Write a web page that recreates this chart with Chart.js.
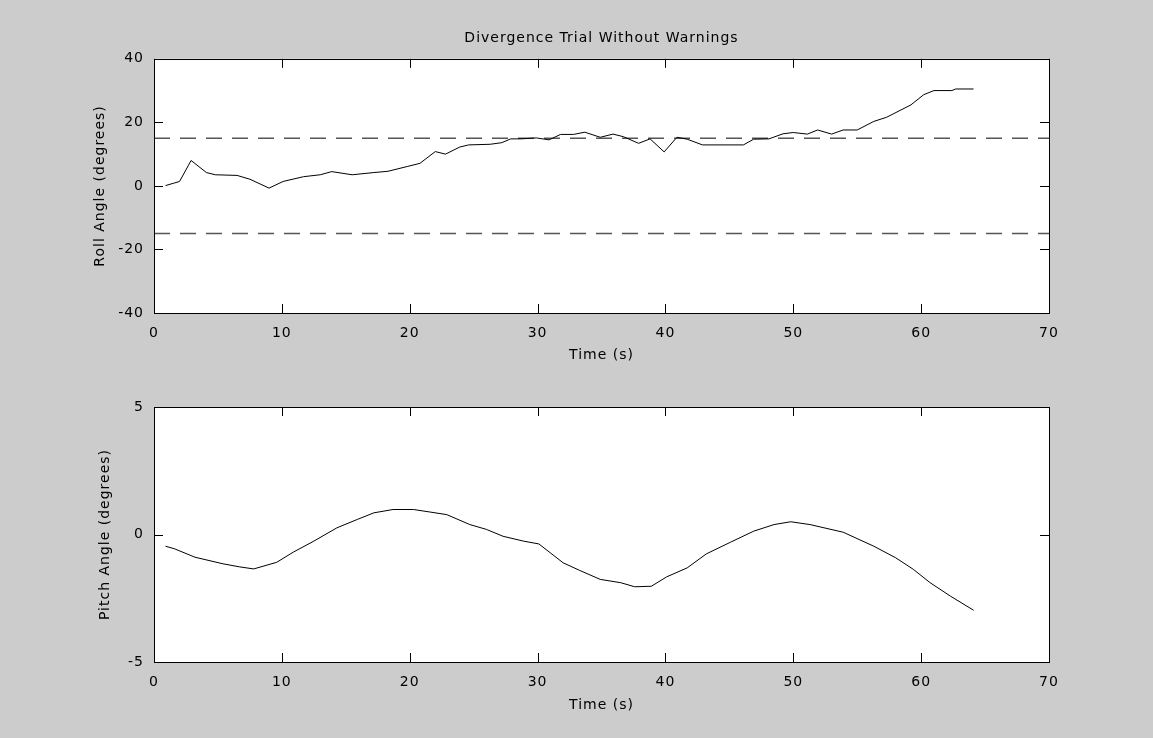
<!DOCTYPE html>
<html>
<head>
<meta charset="utf-8">
<script src="https://cdn.jsdelivr.net/npm/chart.js@4.4.1/dist/chart.umd.min.js"></script>
<style>
  body { margin: 0; background: #cccccc; }
  .box { position: absolute; left: 0; width: 1153px; height: 369px; }
</style>
</head>
<body>
<div class="box" style="top:0"><canvas id="rollChart"></canvas></div>
<div class="box" style="top:369px"><canvas id="pitchChart"></canvas></div>
<script>
// roll angle (top plot)
const rollTime = [0.9, 1.5, 2.0, 2.9, 4.1, 4.8, 6.5, 7.5, 9.0, 10.1, 11.7, 13.0, 13.9, 15.5, 17.2, 18.3, 19.8, 20.8,
  22.0, 22.8, 23.9, 24.6, 26.3, 27.2, 27.9, 28.7, 29.9, 30.9, 31.8, 32.8, 33.7, 34.9, 35.9, 36.7, 37.9, 38.8,
  39.9, 40.9, 41.7, 42.9, 46.1, 46.9, 48.1, 49.2, 50.0, 51.1, 51.9, 53.0, 53.9, 55.0, 56.3, 57.3, 59.2, 60.2,
  61.0, 62.4, 62.7, 64.1];
const rollAngle = [0.1, 0.8, 1.4, 8.0, 4.2, 3.5, 3.3, 2.1, -0.7, 1.4, 2.9, 3.5, 4.5, 3.5, 4.2, 4.6, 6.1, 7.1,
  10.8, 10.0, 12.2, 12.9, 13.1, 13.6, 14.8, 14.8, 15.1, 14.5, 16.2, 16.2, 16.9, 15.3, 16.3, 15.5, 13.4, 14.8,
  10.7, 15.3, 14.7, 12.9, 12.9, 14.7, 14.8, 16.4, 16.8, 16.3, 17.6, 16.3, 17.6, 17.6, 20.3, 21.6, 25.5, 28.7,
  30.0, 30.0, 30.5, 30.5];
const rollLimits = [15, -15];

// pitch angle (bottom plot)
const pitchTime = [0.9, 1.6, 3.2, 5.4, 6.7, 7.8, 9.6, 10.9, 12.5, 14.3, 15.9, 17.2, 18.7, 20.3, 21.6, 22.9,
  24.7, 26.0, 27.3, 28.9, 30.1, 31.0, 32.0, 33.3, 34.9, 36.5, 37.6, 38.9, 40.1, 41.7, 43.2, 45.1, 46.9, 48.5,
  49.8, 51.3, 53.9, 56.3, 58.0, 59.4, 60.7, 62.3, 64.1];
const pitchAngle = [-0.46, -0.56, -0.89, -1.15, -1.27, -1.35, -1.09, -0.69, -0.26, 0.26, 0.59, 0.85, 0.98, 0.98,
  0.88, 0.78, 0.39, 0.2, -0.07, -0.26, -0.37, -0.72, -1.11, -1.41, -1.76, -1.89, -2.05, -2.03, -1.66, -1.31,
  -0.76, -0.3, 0.13, 0.39, 0.5, 0.39, 0.09, -0.46, -0.91, -1.37, -1.89, -2.42, -2.97];

const xRange = [0, 70];
const rollRange = [-40, 40];
const pitchRange = [-5, 5];

const font = { family: 'DejaVu Sans', size: 14 };

// white axes box with inward ticks on all four sides, like the original figure
const matlabBox = {
  id: 'matlabBox',
  beforeUpdate(chart) { chart.ctx.letterSpacing = '1px'; },
  beforeDraw(chart) {
    const { ctx, chartArea: a } = chart;
    ctx.save();
    ctx.fillStyle = '#ffffff';
    ctx.fillRect(a.left, a.top, a.right - a.left, a.bottom - a.top);
    ctx.restore();
  },
  afterDraw(chart) {
    const { ctx, chartArea: a, scales } = chart;
    const len = 9;
    ctx.save();
    ctx.strokeStyle = '#000';
    ctx.lineWidth = 1;
    ctx.beginPath();
    scales.x.ticks.forEach(t => {
      const px = Math.round(scales.x.getPixelForValue(t.value)) + 0.5;
      ctx.moveTo(px, a.top); ctx.lineTo(px, a.top + len);
      ctx.moveTo(px, a.bottom); ctx.lineTo(px, a.bottom - len);
    });
    scales.y.ticks.forEach(t => {
      const py = Math.round(scales.y.getPixelForValue(t.value)) + 0.5;
      ctx.moveTo(a.left, py); ctx.lineTo(a.left + len, py);
      ctx.moveTo(a.right, py); ctx.lineTo(a.right - len, py);
    });
    ctx.stroke();
    ctx.strokeRect(Math.round(a.left) + 0.5, Math.round(a.top) + 0.5,
      Math.round(a.right - a.left), Math.round(a.bottom - a.top));
    ctx.restore();
  }
};

function makeScales(yRange, yStep, yTitle, yTitlePad, xTitlePad) {
  return {
    x: {
      type: 'linear', min: xRange[0], max: xRange[1],
      afterFit(s) { s.height = xTitlePad.h; },
      grid: { display: false, drawTicks: false }, border: { display: false },
      ticks: { stepSize: 10, color: '#000', font, padding: 12 },
      title: { display: true, text: 'Time (s)', color: '#000', font, padding: { top: 0, bottom: xTitlePad.b } }
    },
    y: {
      min: yRange[0], max: yRange[1],
      afterFit(s) { s.width = 154; },
      grid: { display: false, drawTicks: false }, border: { display: false },
      ticks: { stepSize: yStep, color: '#000', font, padding: 10 },
      title: { display: true, text: yTitle, color: '#000', font, padding: { top: yTitlePad, bottom: 0 } }
    }
  };
}

const pts = (xs, ys) => xs.map((x, i) => ({ x: x, y: ys[i] }));

new Chart(document.getElementById('rollChart'), {
  type: 'line',
  data: {
    datasets: [
      { data: pts(rollTime, rollAngle), borderColor: '#000', borderWidth: 1, pointRadius: 0, tension: 0 },
      ...rollLimits.map(v => ({
        data: pts(xRange, [v, v]), borderColor: '#555', borderWidth: 1.5, borderDash: [16, 10],
        pointRadius: 0
      }))
    ]
  },
  options: {
    responsive: true, maintainAspectRatio: false, animation: false,
    layout: { padding: { left: 0, right: 104, top: 0, bottom: 0 } },
    plugins: {
      legend: { display: false }, tooltip: { enabled: false },
      title: {
        display: true, fullSize: false, text: 'Divergence Trial Without Warnings', color: '#000',
        font: { family: 'DejaVu Sans', size: 14, weight: 'normal' }, padding: { top: 30, bottom: 12 }
      }
    },
    scales: makeScales(rollRange, 20, 'Roll Angle (degrees)', 92, { h: 56, b: 5 })
  },
  plugins: [matlabBox]
});

new Chart(document.getElementById('pitchChart'), {
  type: 'line',
  data: {
    datasets: [
      { data: pts(pitchTime, pitchAngle), borderColor: '#000', borderWidth: 1, pointRadius: 0, tension: 0 }
    ]
  },
  options: {
    responsive: true, maintainAspectRatio: false, animation: false,
    layout: { padding: { left: 0, right: 104, top: 38, bottom: 0 } },
    plugins: { legend: { display: false }, tooltip: { enabled: false } },
    scales: makeScales(pitchRange, 5, 'Pitch Angle (degrees)', 97, { h: 76, b: 24 })
  },
  plugins: [matlabBox]
});
</script>
</body>
</html>
